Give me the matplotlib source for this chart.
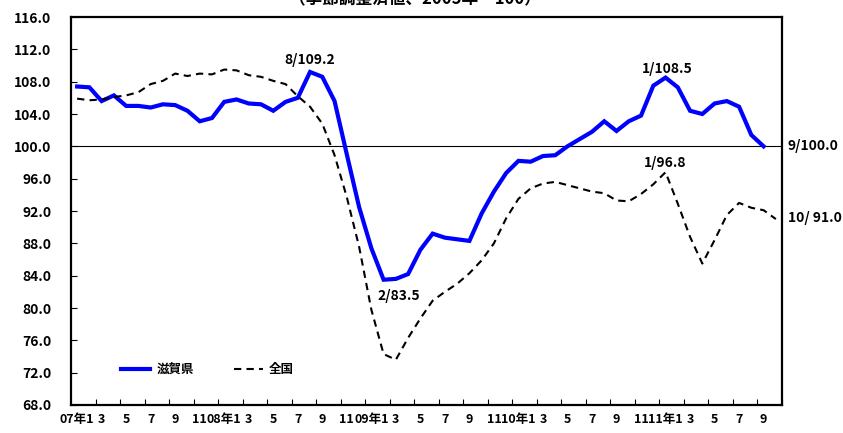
import matplotlib
matplotlib.use('Agg')
import matplotlib.pyplot as plt
import numpy as np

plt.rcParams['font.family'] = ['Noto Sans CJK JP', 'DejaVu Sans']
plt.rcParams['font.weight'] = 'bold'

# monthly index, 2007/1 .. 2011/10 (seasonally adjusted, 2005 = 100)
shiga = [107.4, 107.3, 105.6, 106.3, 105.0, 105.0, 104.8, 105.2, 105.1, 104.4,
         103.1, 103.5, 105.5, 105.8, 105.3, 105.2, 104.4, 105.5, 106.0, 109.2,
         108.6, 105.6, 99.0, 92.5, 87.4, 83.5, 83.6, 84.2, 87.2, 89.2,
         88.7, 88.5, 88.3, 91.7, 94.4, 96.7, 98.2, 98.1, 98.8, 98.9,
         100.0, 100.9, 101.8, 103.1, 101.9, 103.1, 103.8, 107.5, 108.5, 107.3,
         104.4, 104.0, 105.3, 105.6, 104.9, 101.4, 100.0]
national = [105.9, 105.7, 105.8, 106.1, 106.3, 106.7, 107.7, 108.1, 109.0, 108.7,
            109.0, 108.9, 109.5, 109.4, 108.8, 108.6, 108.1, 107.7, 106.2, 104.9,
            102.8, 98.9, 93.7, 87.6, 79.8, 74.3, 73.6, 76.3, 78.7, 80.9,
            82.0, 83.0, 84.3, 85.9, 88.0, 91.1, 93.5, 94.8, 95.4, 95.6,
            95.2, 94.8, 94.4, 94.2, 93.3, 93.2, 94.1, 95.3, 96.8, 92.9,
            88.8, 85.5, 88.4, 91.5, 93.0, 92.4, 92.1, 91.0]
start_year = 7
n_months = len(national)

labels = []
for i in range(n_months):
    month = i % 12 + 1
    if month == 1:
        labels.append('{:02d}年1'.format(start_year + i // 12))
    else:
        labels.append(str(month))

fig = plt.figure(figsize=(8.43, 4.33), dpi=100)
ax = fig.add_axes([71 / 843, 28 / 433, 711 / 843, 388 / 433])

x_all = np.arange(n_months)
ax.plot(np.arange(len(shiga)), shiga, color='#0000ff', lw=3,
        solid_joinstyle='miter', label='滋賀県')
ax.plot(x_all, national, color='black', lw=1.5, ls=(0, (3.5, 2.5)),
        label='全国')
ax.axhline(100, color='black', lw=0.8, zorder=1)

ax.set_xlim(-0.5, n_months - 0.5)
ax.set_ylim(68, 116)
ax.set_yticks(np.arange(68, 117, 4))
ax.set_yticklabels(['{:.1f}'.format(v) for v in np.arange(68, 117, 4)])

ax.set_xticks(np.arange(1.5, n_months, 2))
ax.set_xticklabels([])
ax.set_xticks(x_all[::2], minor=True)
ax.set_xticklabels(labels[::2], minor=True)
ax.tick_params(axis='x', which='major', direction='in', length=4, width=0.8)
ax.tick_params(axis='x', which='minor', length=0, pad=6, labelsize=9)
ax.tick_params(axis='y', direction='in', length=4, width=0.8, pad=14,
               labelsize=10)
for s in ax.spines.values():
    s.set_linewidth(1.6)

ax.legend(loc='lower left', bbox_to_anchor=(0.055, 0.045), ncol=2, frameon=False,
          fontsize=9, handlelength=2.3, handletextpad=0.5, columnspacing=3.2)

# value labels
ax.annotate('8/109.2', (19, shiga[19]), xytext=(0, 6), textcoords='offset points',
            ha='center', fontsize=10)
ax.annotate('2/83.5', (25, shiga[25]), xytext=(11, -12), textcoords='offset points',
            ha='center', va='center', fontsize=10)
ax.annotate('1/108.5', (48, shiga[48]), xytext=(1, 3), textcoords='offset points',
            ha='center', fontsize=10)
ax.annotate('1/96.8', (48, national[48]), xytext=(0, 4), textcoords='offset points',
            ha='center', fontsize=10)
ax.text(1.008, (100 - 68) / 48, '9/100.0', transform=ax.transAxes,
        ha='left', va='center', fontsize=10)
ax.text(1.008, (91.1 - 68) / 48, '10/ 91.0', transform=ax.transAxes,
        ha='left', va='center', fontsize=10)

fig.text(415 / 843, 1.0 + 1 / 433, '（季節調整済値、2005年＝100）', ha='center',
         va='center', fontsize=12)

fig.savefig('out.png', dpi=100)
